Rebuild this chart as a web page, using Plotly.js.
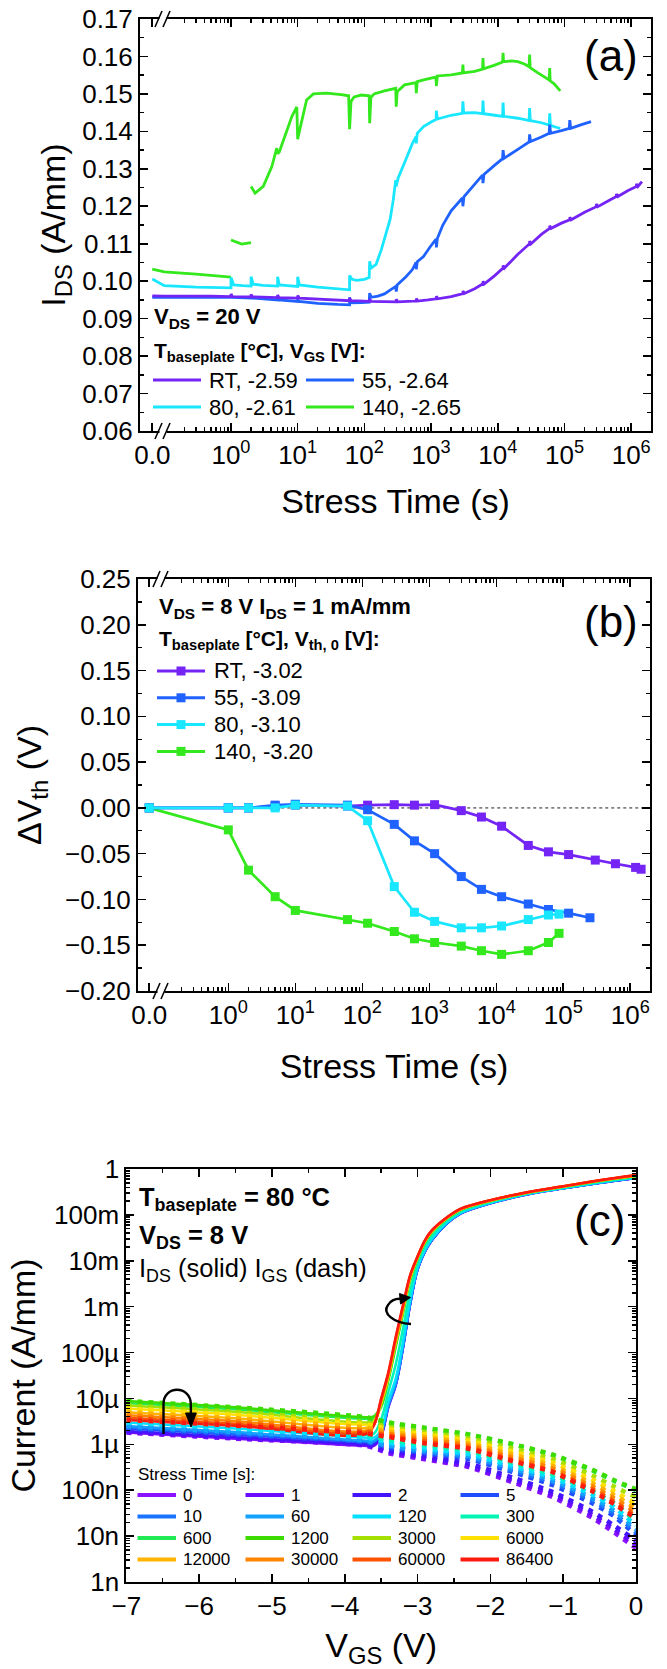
<!DOCTYPE html>
<html>
<head>
<meta charset="utf-8">
<script src="https://cdn.plot.ly/plotly-3.0.1.min.js"></script>
<style>html,body{margin:0;padding:0;background:#fff}</style>
</head>
<body>
<div id="chart" style="width:667px;height:1669px"></div>
<script>
// ---------------- DATA ----------------
// Panel (a): I_DS vs stress time, pairs [time (s), I_DS (A/mm)], [null,null] = gap
const a_RT = [[0,0.0961],[0.1,0.0960],[0.5,0.0960],[1,0.0959],[1,0.0966],[1.05,0.0959],[2,0.0958],[2,0.0965],[2.1,0.0958],
 [5,0.0956],[5,0.0963],[5.25,0.0956],[10,0.0955],[10,0.0962],[10.5,0.0955],[20,0.0953],[40,0.0950],[60,0.0948],[60,0.0955],[63,0.0948],
 [120,0.0946],[120,0.0953],[126,0.0946],[200,0.0945],[300,0.0945],[300,0.0952],[315,0.0945],[450,0.0946],[600,0.0947],[600,0.0954],[630,0.0947],
 [900,0.0950],[1200,0.0953],[1200,0.0960],[1260,0.0953],[2000,0.0959],[3000,0.0967],[3000,0.0974],[3150,0.0967],[4500,0.0980],
 [6000,0.0993],[6000,0.1000],[6300,0.0993],[9000,0.1015],[12000,0.1035],[12000,0.1042],[12600,0.1035],[20000,0.1072],
 [30000,0.1100],[30000,0.1107],[31500,0.1100],[45000,0.1125],[60000,0.1141],[60000,0.1148],[63000,0.1141],[90000,0.1155],
 [120000,0.1164],[120000,0.1171],[126000,0.1164],[200000,0.1184],[300000,0.1199],[300000,0.1206],[315000,0.1199],[450000,0.1214],
 [600000,0.1226],[600000,0.1233],[630000,0.1226],[900000,0.1242],[1200000,0.1253],[1200000,0.1260],[1260000,0.1253],[1450000,0.1266]];
const a_55 = [[0,0.0957],[0.1,0.0957],[1,0.0957],[1,0.0963],[1.05,0.0957],[2,0.0955],[2,0.0961],[2.1,0.0955],[5,0.0950],[5,0.0956],[5.25,0.0950],
 [10,0.0946],[10,0.0952],[10.5,0.0946],[20,0.0941],[40,0.0938],[60,0.0937],[60,0.0957],[62,0.0942],[90,0.0943],[118,0.0944],
 [120,0.0968],[126,0.0957],[160,0.0960],[200,0.0966],[243,0.0976],[295,0.0986],[300,0.0972],[310,0.0990],[420,0.1012],[525,0.1031],[595,0.1050],
 [600,0.1032],[620,0.1052],[770,0.1066],[970,0.1092],[1190,0.1112],[1200,0.1090],[1240,0.1114],[1500,0.1150],[2000,0.1188],[2950,0.1222],
 [3000,0.1200],[3100,0.1225],[4500,0.1260],[5900,0.1283],[6000,0.1262],[6200,0.1285],[9000,0.1310],[11800,0.1327],
 [12000,0.1350],[12400,0.1328],[20000,0.1352],[29500,0.1372],[30000,0.1392],[31000,0.1373],[45000,0.1385],[59000,0.1395],
 [60000,0.1418],[62000,0.1395],[90000,0.1402],[118000,0.1408],[120000,0.1430],[124000,0.1408],[180000,0.1418],[250000,0.1426]];
const a_80 = [[0,0.1006],[0.1,0.0988],[0.3,0.0984],[1,0.0982],[1,0.1010],[1.1,0.0990],[1.5,0.0988],[2,0.0987],[2,0.1012],[2.15,0.0992],[3,0.0989],
 [5,0.0987],[5,0.1012],[5.3,0.0990],[7,0.0988],[10,0.0986],[10,0.1012],[10.6,0.0990],[20,0.0984],[40,0.0980],[60,0.0977],
 [60,0.1015],[65,0.1005],[77,0.1002],[100,0.1005],[118,0.1010],[120,0.1053],[126,0.1035],[150,0.1045],[180,0.1085],[210,0.1125],
 [243,0.1165],[270,0.1215],[295,0.1270],[300,0.1253],[320,0.1275],[417,0.1324],[525,0.1368],[595,0.1386],
 [600,0.1368],[620,0.1395],[770,0.1413],[1000,0.1425],[1190,0.1432],[1200,0.1455],[1240,0.1433],[2000,0.1443],[2950,0.1448],
 [3000,0.1480],[3080,0.1449],[4500,0.1450],[5900,0.1447],[6000,0.1482],[6150,0.1447],[9000,0.1443],[11800,0.1440],
 [12000,0.1477],[12300,0.1440],[20000,0.1435],[29500,0.1429],[30000,0.1462],[30700,0.1429],[45000,0.1423],[59000,0.1417],
 [60000,0.1448],[61500,0.1416],[75000,0.1411],[86400,0.1408]];
const a_140 = [[0,0.1032],[0.1,0.1025],[0.3,0.1019],[1,0.1011],[null,null],
 [1,0.1110],[1.45,0.1099],[2,0.1103],[null,null],
 [2,0.1253],[2.3,0.1235],[3.05,0.1253],[4.1,0.1306],[4.85,0.1355],[5,0.1340],[5.3,0.1345],[6.8,0.1400],[8.2,0.1440],[9.7,0.1465],
 [10,0.1379],[10.6,0.1400],[12.2,0.1448],[13.6,0.1484],[17.2,0.1500],[27,0.1502],[45,0.1498],[58,0.1495],
 [60,0.1406],[63,0.1480],[70,0.1492],[90,0.1497],[118,0.1495],[120,0.1422],[125,0.1490],[140,0.1500],[200,0.1508],[295,0.1515],
 [300,0.1466],[310,0.1506],[400,0.1524],[590,0.1530],[600,0.1502],[620,0.1533],[800,0.1538],[1180,0.1545],
 [1200,0.1521],[1240,0.1548],[2000,0.1551],[2950,0.1556],[3000,0.1578],[3050,0.1556],[4500,0.1560],[5900,0.1566],
 [6000,0.1596],[6100,0.1567],[9000,0.1577],[11800,0.1585],[12000,0.1610],[12200,0.1586],[16000,0.1588],[20000,0.1586],[25000,0.1580],[29500,0.1573],
 [30000,0.1605],[30600,0.1570],[40000,0.1556],[50000,0.1545],[59000,0.1537],[60000,0.1569],[61000,0.1535],[70000,0.1527],[80000,0.1516],[86400,0.1508]];
const a_names = ['RT, -2.59','55, -2.64','80, -2.61','140, -2.65'];

// Panel (b): threshold-voltage shift
const b_t_RT  = [0,1,2,5,10,60,120,300,600,1200,3000,6000,12000,30000,60000,120000,300000,600000,1200000,1450000];
const b_dV_RT = [0,0,0,0.002,0.003,0.002,0.003,0.0035,0.003,0.0035,-0.003,-0.010,-0.020,-0.041,-0.048,-0.051,-0.057,-0.061,-0.065,-0.067];
const b_t_55  = [0,1,2,5,10,60,120,300,600,1200,3000,6000,12000,30000,60000,120000,250000];
const b_dV_55 = [0,0,0,0.003,0.004,0.003,-0.002,-0.018,-0.036,-0.050,-0.075,-0.089,-0.097,-0.105,-0.111,-0.115,-0.120];
const b_t_80  = [0,1,2,5,10,60,120,300,600,1200,3000,6000,12000,30000,60000,86400];
const b_dV_80 = [0,0,0,0,0.003,0.002,-0.014,-0.086,-0.114,-0.124,-0.131,-0.131,-0.129,-0.122,-0.117,-0.116];
const b_t_140  = [0,1,2,5,10,60,120,300,600,1200,3000,6000,12000,30000,60000,86400];
const b_dV_140 = [0,-0.024,-0.068,-0.097,-0.112,-0.122,-0.126,-0.135,-0.143,-0.147,-0.151,-0.156,-0.160,-0.156,-0.147,-0.137];
const b_names = ['RT, -3.02','55, -3.09','80, -3.10','140, -3.20'];

// Panel (c): transfer curves at 80 °C
const stressTimes = [0,1,2,5,10,60,120,300,600,1200,3000,6000,12000,30000,60000,86400];
const vgsIDS = [-7,-5.5,-3.7,-3.6,-3.5,-3.4,-3.3,-3.2,-3.1,-3.0,-2.9,-2.8,-2.6,-2.4,-2.0,-1.5,-1.0,-0.5,0];
const ids_0     = [1.80e-6,1.33e-6,0.92e-6,0.92e-6,1.5e-6,6.5e-6,1.9e-5,1.25e-4,1.15e-3,6.4e-3,1.55e-2,2.85e-2,6.4e-2,0.108,0.178,0.278,0.378,0.498,0.635];
const ids_1     = [1.85e-6,1.37e-6,0.95e-6,0.95e-6,1.55e-6,6.8e-6,2.0e-5,1.3e-4,1.2e-3,6.5e-3,1.58e-2,2.88e-2,6.45e-2,0.109,0.179,0.279,0.379,0.499,0.637];
const ids_2     = [1.95e-6,1.45e-6,1.00e-6,1.00e-6,1.65e-6,7.4e-6,2.2e-5,1.4e-4,1.25e-3,6.7e-3,1.62e-2,2.92e-2,6.5e-2,0.110,0.180,0.280,0.380,0.500,0.640];
const ids_5     = [2.20e-6,1.62e-6,1.10e-6,1.10e-6,1.7e-6,7.0e-6,2.0e-5,1.3e-4,1.2e-3,6.6e-3,1.6e-2,2.9e-2,6.5e-2,0.110,0.180,0.280,0.380,0.500,0.640];
const ids_10    = [2.35e-6,1.73e-6,1.15e-6,1.15e-6,1.75e-6,7.0e-6,2.0e-5,1.3e-4,1.2e-3,6.6e-3,1.6e-2,2.9e-2,6.5e-2,0.110,0.180,0.281,0.381,0.502,0.642];
const ids_60    = [2.50e-6,1.85e-6,1.20e-6,1.20e-6,1.85e-6,7.6e-6,2.2e-5,1.4e-4,1.28e-3,6.8e-3,1.63e-2,2.95e-2,6.6e-2,0.111,0.181,0.282,0.382,0.504,0.645];
const ids_120   = [3.00e-6,2.20e-6,1.40e-6,1.40e-6,2.1e-6,9.0e-6,2.7e-5,1.7e-4,1.45e-3,7.2e-3,1.7e-2,3.05e-2,6.8e-2,0.113,0.183,0.284,0.385,0.508,0.650];
const ids_300   = [3.60e-6,2.65e-6,1.60e-6,1.70e-6,3.5e-6,1.4e-5,5.5e-5,3.3e-4,2.2e-3,8.8e-3,2.0e-2,3.5e-2,7.4e-2,0.120,0.192,0.292,0.395,0.525,0.670];
const ids_600   = [8.00e-6,5.80e-6,3.60e-6,3.80e-6,6.5e-6,2.5e-5,1.3e-4,7.0e-4,3.8e-3,1.1e-2,2.45e-2,4.2e-2,8.2e-2,0.130,0.201,0.301,0.408,0.548,0.700];
const ids_1200  = [8.80e-6,6.40e-6,3.90e-6,4.10e-6,7.0e-6,2.7e-5,1.45e-4,7.6e-4,4.0e-3,1.13e-2,2.5e-2,4.3e-2,8.3e-2,0.131,0.202,0.302,0.410,0.552,0.705];
const ids_3000  = [7.00e-6,5.10e-6,3.00e-6,3.30e-6,7.6e-6,2.9e-5,1.6e-4,8.2e-4,4.2e-3,1.16e-2,2.58e-2,4.4e-2,8.4e-2,0.132,0.204,0.304,0.412,0.556,0.710];
const ids_6000  = [6.00e-6,4.40e-6,2.70e-6,3.00e-6,8.0e-6,3.1e-5,1.7e-4,8.7e-4,4.4e-3,1.18e-2,2.62e-2,4.45e-2,8.5e-2,0.133,0.205,0.305,0.414,0.558,0.715];
const ids_12000 = [5.00e-6,3.70e-6,2.30e-6,2.80e-6,8.4e-6,3.3e-5,1.8e-4,9.2e-4,4.6e-3,1.2e-2,2.67e-2,4.5e-2,8.6e-2,0.134,0.206,0.306,0.415,0.560,0.720];
const ids_30000 = [4.30e-6,3.20e-6,2.00e-6,2.70e-6,8.8e-6,3.4e-5,1.9e-4,9.6e-4,4.7e-3,1.22e-2,2.71e-2,4.58e-2,8.65e-2,0.135,0.207,0.307,0.417,0.564,0.725];
const ids_60000 = [3.80e-6,2.80e-6,1.85e-6,2.60e-6,9.4e-6,3.6e-5,2.05e-4,1.03e-3,4.85e-3,1.24e-2,2.76e-2,4.65e-2,8.7e-2,0.137,0.209,0.309,0.419,0.567,0.732];
const ids_86400 = [3.40e-6,2.55e-6,1.70e-6,2.60e-6,1.0e-5,3.8e-5,2.2e-4,1.1e-3,5.0e-3,1.25e-2,2.8e-2,4.7e-2,8.8e-2,0.138,0.210,0.310,0.420,0.570,0.740];
const vgsIGS = [-7,-5.5,-3.7,-3.4,-2.9,-2.3,-1.7,-1.15,-0.6,-0.3,0];
// gate current in µA/mm
const igs_0_uA     = [1.80,1.33,0.92,0.64,0.47,0.32,0.15,0.071,0.025,0.012,0.0055];
const igs_1_uA     = [1.85,1.37,0.95,0.68,0.50,0.34,0.165,0.080,0.029,0.014,0.0065];
const igs_2_uA     = [1.95,1.45,1.00,0.74,0.55,0.38,0.19,0.092,0.034,0.017,0.0080];
const igs_5_uA     = [2.20,1.62,1.10,0.85,0.64,0.48,0.25,0.13,0.052,0.027,0.0105];
const igs_10_uA    = [2.35,1.73,1.15,0.90,0.68,0.52,0.27,0.15,0.060,0.031,0.012];
const igs_60_uA    = [2.50,1.85,1.20,0.95,0.72,0.56,0.30,0.165,0.068,0.036,0.014];
const igs_120_uA   = [3.00,2.20,1.40,1.10,0.82,0.62,0.34,0.19,0.080,0.043,0.017];
const igs_300_uA   = [3.60,2.65,1.60,1.25,0.95,0.72,0.40,0.22,0.095,0.052,0.021];
const igs_600_uA   = [8.00,5.80,3.60,2.90,2.20,1.62,1.00,0.58,0.27,0.16,0.100];
const igs_1200_uA  = [8.80,6.40,3.90,3.00,2.30,1.65,1.02,0.60,0.28,0.165,0.105];
const igs_3000_uA  = [7.00,5.10,3.00,2.40,1.85,1.35,0.82,0.48,0.21,0.12,0.070];
const igs_6000_uA  = [6.00,4.40,2.70,2.15,1.65,1.20,0.70,0.40,0.17,0.095,0.050];
const igs_12000_uA = [5.00,3.70,2.30,1.90,1.45,1.05,0.60,0.34,0.14,0.078,0.040];
const igs_30000_uA = [4.30,3.20,2.00,1.70,1.30,0.95,0.52,0.30,0.12,0.066,0.033];
const igs_60000_uA = [3.80,2.80,1.85,1.55,1.15,0.85,0.46,0.26,0.105,0.056,0.027];
const igs_86400_uA = [3.40,2.55,1.70,1.45,1.05,0.80,0.43,0.25,0.095,0.050,0.024];

const xTickText = ['0.0','10<sup>0</sup>','10<sup>1</sup>','10<sup>2</sup>','10<sup>3</sup>','10<sup>4</sup>','10<sup>5</sup>','10<sup>6</sup>'];
const yTickTextC = ['1n','10n','100n','1µ','10µ','100µ','1m','10m','100m','1'];

// ---------------- STYLE / LAYOUT ----------------
const F = 'Liberation Sans, Arial, Helvetica, sans-serif';
const W = 667, H = 1669, ML = 126, MR = 16;
const PWID = W - ML - MR;
const PX = x => (x - ML) / PWID;
const PY = y => 1 - y / H;
const X0 = -1.18; // axis position used for t = 0 (left of the axis break)
const tx = t => (t === null ? null : (t <= 0 ? X0 : Math.log10(t)));

const serColA = ['#7424f4', '#1f62ff', '#19e6ff', '#33e81c'];
const cColors = ['#8a12ff','#6a0cff','#4414ff','#1f4cff','#1a74ff','#14a2ff','#00e0ff','#00f5b4',
                 '#22ea55','#3ddc00','#a6e000','#ffe000','#ffb400','#ff8400','#ff5200','#ff1a10'];

const traces = [];
// Panel (a)
const aSeries = [a_140, a_80, a_55, a_RT];
const aCol = [serColA[3], serColA[2], serColA[1], serColA[0]];
const aNm = [a_names[3], a_names[2], a_names[1], a_names[0]];
aSeries.forEach((s, i) => traces.push({
  x: s.map(p => tx(p[0])), y: s.map(p => p[1]), mode: 'lines', name: aNm[i],
  line: {color: aCol[i], width: 2.8}, xaxis: 'x', yaxis: 'y', showlegend: false, hoverinfo: 'skip'
}));
// Panel (b)
const bT = [b_t_140, b_t_RT, b_t_55, b_t_80];
const bV = [b_dV_140, b_dV_RT, b_dV_55, b_dV_80];
const bC = [serColA[3], serColA[0], serColA[1], serColA[2]];
const bN = [b_names[3], b_names[0], b_names[1], b_names[2]];
bT.forEach((t, i) => traces.push({
  x: t.map(tx), y: bV[i], mode: 'lines+markers', name: bN[i],
  line: {color: bC[i], width: 2.7}, marker: {symbol: 'square', size: 9, color: bC[i]},
  xaxis: 'x2', yaxis: 'y2', showlegend: false, hoverinfo: 'skip'
}));
// Panel (c)
const idsAll = [ids_0,ids_1,ids_2,ids_5,ids_10,ids_60,ids_120,ids_300,ids_600,ids_1200,ids_3000,ids_6000,ids_12000,ids_30000,ids_60000,ids_86400];
const igsAll = [igs_0_uA,igs_1_uA,igs_2_uA,igs_5_uA,igs_10_uA,igs_60_uA,igs_120_uA,igs_300_uA,igs_600_uA,igs_1200_uA,igs_3000_uA,igs_6000_uA,igs_12000_uA,igs_30000_uA,igs_60000_uA,igs_86400_uA];
idsAll.forEach((v, i) => traces.push({
  x: vgsIDS, y: v, mode: 'lines', name: 'I_DS ' + stressTimes[i] + ' s',
  line: {color: cColors[i], width: 2.5, shape: 'spline', smoothing: 1.0}, xaxis: 'x3', yaxis: 'y3', showlegend: false, hoverinfo: 'skip'
}));
igsAll.forEach((v, i) => traces.push({
  x: vgsIGS, y: v.map(u => u * 1e-6), mode: 'lines', name: 'I_GS ' + stressTimes[i] + ' s',
  line: {color: cColors[i], width: 4.5, dash: '5px,6px', shape: 'spline', smoothing: 0.6}, xaxis: 'x3', yaxis: 'y3', showlegend: false, hoverinfo: 'skip'
}));

// ticks
const logMinor = [];
for (let n = -1; n <= 6; n++) for (let k = 2; k <= 9; k++) { const v = Math.log10(k) + n; if (v < 6.29) logMinor.push(v); }
const cMajor = [], cMinor = [];
for (let n = -9; n <= 0; n++) { cMajor.push(Math.pow(10, n)); if (n < 0) for (let k = 2; k <= 9; k++) cMinor.push(k * Math.pow(10, n)); }

const axBase = {
  showline: true, linecolor: '#000', linewidth: 2, mirror: 'ticks', ticks: 'inside', ticklen: 8, tickwidth: 1.6,
  tickcolor: '#000', showgrid: false, zeroline: false, tickfont: {family: F, size: 26, color: '#000'}, fixedrange: true
};
const minorBase = {ticks: 'inside', ticklen: 4, tickwidth: 1.4, tickcolor: '#000', showgrid: false};
const titleFont = {family: F, size: 34, color: '#000'};

const layout = {
  width: W, height: H, margin: {l: ML, r: MR, t: 0, b: 0},
  paper_bgcolor: '#fff', plot_bgcolor: '#fff', showlegend: false, font: {family: F, color: '#000'},
  xaxis: Object.assign({}, axBase, {
    domain: [PX(140), PX(651)], anchor: 'y', range: [-1.364, 6.297], tickmode: 'array',
    tickvals: [X0,0,1,2,3,4,5,6], ticktext: xTickText,
    minor: Object.assign({}, minorBase, {tickmode: 'array', tickvals: logMinor}),
    title: {text: 'Stress Time (s)', font: titleFont, standoff: 20}
  }),
  yaxis: Object.assign({}, axBase, {
    domain: [PY(431), PY(19)], anchor: 'x', range: [0.06, 0.17], tick0: 0.06, dtick: 0.01, tickformat: '.2f',
    minor: Object.assign({}, minorBase, {dtick: 0.005}),
    title: {text: 'I<sub>DS</sub> (A/mm)', font: titleFont, standoff: 6}
  }),
  xaxis2: Object.assign({}, axBase, {
    domain: [PX(138), PX(650)], anchor: 'y2', range: [-1.348, 6.294], tickmode: 'array',
    tickvals: [X0,0,1,2,3,4,5,6], ticktext: xTickText,
    minor: Object.assign({}, minorBase, {tickmode: 'array', tickvals: logMinor}),
    title: {text: 'Stress Time (s)', font: titleFont, standoff: 25}
  }),
  yaxis2: Object.assign({}, axBase, {
    domain: [PY(991), PY(579)], anchor: 'x2', range: [-0.2, 0.25], tick0: 0, dtick: 0.05, tickformat: '.2f',
    minor: Object.assign({}, minorBase, {dtick: 0.025}),
    title: {text: 'ΔV<sub>th</sub> (V)', font: titleFont, standoff: 13}
  }),
  xaxis3: Object.assign({}, axBase, {
    domain: [PX(126.3), PX(636)], anchor: 'y3', range: [-7, 0], tick0: -7, dtick: 1,
    minor: Object.assign({}, minorBase, {dtick: 0.5}),
    title: {text: 'V<sub>GS</sub> (V)', font: titleFont, standoff: 21}
  }),
  yaxis3: Object.assign({}, axBase, {
    type: 'log', domain: [PY(1582), PY(1169)], anchor: 'x3', range: [-9, 0], tickmode: 'array',
    tickvals: cMajor, ticktext: yTickTextC,
    minor: Object.assign({}, minorBase, {tickmode: 'array', tickvals: cMinor}),
    title: {text: 'Current (A/mm)', font: titleFont, standoff: 8}
  }),
  shapes: [], annotations: []
};

const S = layout.shapes, A = layout.annotations;
function txt(text, x, y, size, opts) {
  A.push(Object.assign({text: text, xref: 'paper', yref: 'paper', x: PX(x), y: PY(y), xanchor: 'left', yanchor: 'middle',
    showarrow: false, font: {family: F, size: size, color: '#000'}}, opts || {}));
}
function seg(x0, y0, x1, y1, color, width, dash) {
  S.push({type: 'line', xref: 'paper', yref: 'paper', x0: PX(x0), y0: PY(y0), x1: PX(x1), y1: PY(y1),
    line: {color: color, width: width, dash: dash || 'solid'}});
}
function pth(points, color, width, fill) {
  const d = points.map(p => (typeof p === 'string' ? p : PX(p[0]) + ',' + PY(p[1]))).join(' ');
  S.push({type: 'path', xref: 'paper', yref: 'paper', path: d, line: {color: color, width: width},
    fillcolor: fill || 'rgba(0,0,0,0)'});
}
function brk(xc, y) {
  seg(xc - 3.5, y, xc + 3.5, y, '#fff', 4);
  seg(xc - 8, y + 8, xc - 1, y - 8, '#000', 1.6);
  seg(xc + 0, y + 8, xc + 7, y - 8, '#000', 1.6);
}
// axis breaks
brk(163, 431); brk(163, 19); brk(161, 991); brk(161, 579);

// zero line in (b)
S.push({type: 'line', xref: 'x2', yref: 'y2', x0: X0, x1: 6.294, y0: 0, y1: 0, layer: 'below',
  line: {color: '#808080', width: 1.6, dash: 'dot'}});

// Panel labels
txt('(a)', 611, 55, 44, {xanchor: 'center'});
txt('(b)', 611, 621, 44, {xanchor: 'center'});
txt('(c)', 599, 1220, 44, {xanchor: 'center'});

// Panel (a) annotations + legend
txt('<b>V<sub>DS</sub> = 20 V</b>', 152, 318, 22);
txt('<b>T<sub>baseplate</sub> [°C], V<sub>GS</sub> [V]:</b>', 152, 352, 21);
const aLegPos = [[153, 380], [306, 380], [153, 407], [306, 407]];
a_names.forEach((n, i) => {
  const p = aLegPos[i];
  seg(p[0], p[1], p[0] + 48, p[1], serColA[i], 3);
  txt(n, p[0] + 54, p[1], 22);
});

// Panel (b) annotations + legend
txt('<b>V<sub>DS</sub> = 8 V I<sub>DS</sub> = 1 mA/mm</b>', 157, 608, 22);
txt('<b>T<sub>baseplate</sub> [°C], V<sub>th, 0</sub> [V]:</b>', 157, 640, 21);
b_names.forEach((n, i) => {
  const y = 671 + i * 26.8;
  seg(157, y, 205, y, serColA[i], 3);
  S.push({type: 'rect', xref: 'paper', yref: 'paper', x0: PX(176.5), x1: PX(185.5), y0: PY(y + 4.5), y1: PY(y - 4.5),
    fillcolor: serColA[i], line: {width: 0}});
  txt(n, 212, y, 22);
});

// Panel (c) annotations + legend
txt('<b>T<sub>baseplate</sub> = 80 °C</b>', 137, 1199, 25.5);
txt('<b>V<sub>DS</sub> = 8 V</b>', 137, 1237, 25.5);
txt('I<sub>DS</sub> (solid) I<sub>GS</sub> (dash)', 137, 1270, 25.5);
txt('Stress Time [s]:', 136, 1474, 17);
const colX = [137.5, 245.5, 352.5, 460.5], rowY = [1495, 1516.5, 1538, 1559.5];
stressTimes.forEach((t, i) => {
  const cx = colX[i % 4], cy = rowY[Math.floor(i / 4)];
  seg(cx, cy, cx + 38.5, cy, cColors[i], 3.8);
  txt(String(t), cx + 43, cy, 17);
});
// curved arrows in (c)
pth(['M', [163.5, 1434], 'L', [163.5, 1404], 'C', [163.5, 1385], [190.5, 1385], [190.8, 1404], 'L', [190.9, 1415]], '#000', 2.4);
pth(['M', [185.5, 1413], 'L', [196.3, 1413], 'L', [191, 1427], 'Z'], '#000', 1, '#000');
pth(['M', [411, 1324], 'C', [393, 1323], [382, 1313], [388, 1305], 'C', [391, 1300], [396, 1298.5], [401, 1298.8]], '#000', 2.4);
pth(['M', [399.5, 1293.5], 'L', [410.5, 1297.5], 'L', [400.5, 1304], 'Z'], '#000', 1, '#000');

Plotly.newPlot('chart', traces, layout, {staticPlot: true, displayModeBar: false});
</script>
</body>
</html>
